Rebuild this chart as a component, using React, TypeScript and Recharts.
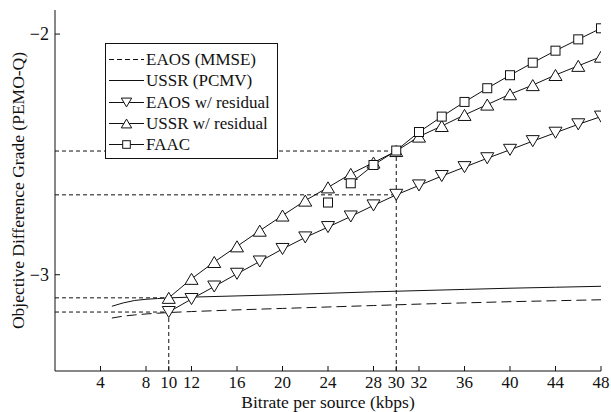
import { Line, LineChart, ReferenceLine, XAxis, YAxis } from "recharts";

// bitrate grid for the two smooth baselines (kbps)
const curveRate = [5, 6, 7, 8, 9, 10, 12, 16, 20, 24, 28, 32, 36, 40, 44, 48];
const eaosMmse = [-3.18, -3.172, -3.167, -3.163, -3.16, -3.157, -3.153, -3.146, -3.14, -3.134, -3.128, -3.122, -3.117, -3.112, -3.108, -3.104];
const ussrPcmv = [-3.131, -3.117, -3.107, -3.102, -3.099, -3.096, -3.093, -3.088, -3.083, -3.077, -3.071, -3.066, -3.061, -3.056, -3.052, -3.048];

// residual-coding curves, measured every 2 kbps
const markRate = [10, 12, 14, 16, 18, 20, 22, 24, 26, 28, 30, 32, 34, 36, 38, 40, 42, 44, 46, 48];
const eaosResidual = [-3.155, -3.101, -3.049, -2.996, -2.945, -2.893, -2.845, -2.802, -2.758, -2.712, -2.668, -2.629, -2.59, -2.553, -2.516, -2.481, -2.445, -2.41, -2.375, -2.343];
const ussrResidual = [-3.096, -3.017, -2.947, -2.882, -2.817, -2.754, -2.692, -2.637, -2.581, -2.534, -2.486, -2.426, -2.382, -2.336, -2.293, -2.25, -2.212, -2.17, -2.132, -2.094];

const faacRate = [24, 26, 28, 30, 32, 34, 36, 38, 40, 42, 44, 46, 48];
const faac = [-2.7, -2.62, -2.544, -2.484, -2.407, -2.343, -2.282, -2.225, -2.171, -2.119, -2.069, -2.022, -1.976];

const xTicks = [4, 8, 10, 12, 16, 20, 24, 28, 30, 32, 36, 40, 44, 48];
const yTicks = [-3, -2];

// dotted guide lines: [x0, y0, x1, y1]
const guides = [
  [0, -2.486, 30, -2.486],
  [0, -2.668, 30, -2.668],
  [0, -3.096, 10, -3.096],
  [0, -3.155, 10, -3.155],
  [10, -3.4, 10, -3.155],
  [30, -3.4, 30, -2.486],
];

const FONT = "Liberation Serif, DejaVu Serif, serif";
const INK = "#111";
const TICK_GAP = 5;
const TICK_FS = 17;
const LABEL_FS = 17.5;

const pts = (xs: number[], ys: number[]) => xs.map((x, i) => ({ x, y: ys[i] }));

const UpTri = ({ cx, cy, s = 6.5 }: { cx: number; cy: number; s?: number }) => (
  <path d={`M${cx},${cy - s * 0.85} L${cx + s},${cy + s * 0.85} L${cx - s},${cy + s * 0.85} Z`} fill="#fff" stroke={INK} strokeWidth={1} />
);
const DownTri = ({ cx, cy, s = 6.5 }: { cx: number; cy: number; s?: number }) => (
  <path d={`M${cx - s},${cy - s * 0.85} L${cx + s},${cy - s * 0.85} L${cx},${cy + s * 0.85} Z`} fill="#fff" stroke={INK} strokeWidth={1} />
);
const Square = ({ cx, cy, s = 4.5 }: { cx: number; cy: number; s?: number }) => (
  <rect x={cx - s} y={cy - s} width={s * 2} height={s * 2} fill="#fff" stroke={INK} strokeWidth={1} />
);

const dotOf = (Shape: typeof Square) => (p: any) => <Shape key={`d${p.index}`} cx={p.cx} cy={p.cy} />;

const XTick = ({ x, y, payload }: any) => (
  <g>
    <line x1={x} x2={x} y1={y - TICK_GAP} y2={y - TICK_GAP - 5} stroke={INK} />
    <text x={x} y={y} dy="0.71em" textAnchor="middle" style={{ fontFamily: FONT }} fontSize={TICK_FS} fill={INK}>
      {payload.value}
    </text>
  </g>
);

const YTick = ({ x, y, payload }: any) => (
  <g>
    <line x1={x + TICK_GAP} x2={x + TICK_GAP + 5} y1={y} y2={y} stroke={INK} />
    <text x={x - 1} y={y} dy="0.355em" textAnchor="end" style={{ fontFamily: FONT }} fontSize={TICK_FS + 1} fill={INK}>
      {String(payload.value).replace("-", "\u2212")}
    </text>
  </g>
);

const legendRows = [
  { name: "EAOS (MMSE)", dash: "5 3", mark: null },
  { name: "USSR (PCMV)", dash: undefined, mark: null },
  { name: "EAOS w/ residual", dash: undefined, mark: DownTri },
  { name: "USSR w/ residual", dash: undefined, mark: UpTri },
  { name: "FAAC", dash: undefined, mark: Square },
];

const LegendBox = () => (
  <div
    style={{
      position: "absolute", left: 105, top: 43, width: 173, height: 116, boxSizing: "border-box",
      border: `1px solid ${INK}`, background: "#fff", padding: "5px 0 0 2px",
      fontFamily: FONT, fontSize: 17, color: INK,
    }}
  >
    {legendRows.map((r) => (
      <div key={r.name} style={{ display: "flex", alignItems: "center", height: 21.3, whiteSpace: "nowrap" }}>
        <svg width={38} height={21} style={{ flex: "none" }}>
          <line x1={1} x2={36} y1={10.5} y2={10.5} stroke={INK} strokeDasharray={r.dash} />
          {r.mark && <r.mark cx={18.5} cy={10.5} s={r.mark === Square ? 3.8 : 5.2} />}
        </svg>
        <span style={{ lineHeight: "21px" }}>{r.name}</span>
      </div>
    ))}
  </div>
);

export default function App() {
  const faacPts = pts(faacRate, faac);
  return (
    <div style={{ position: "absolute", left: 0, top: 0, width: 611, height: 412, background: "#fff", fontFamily: FONT }}>
      <LineChart width={611} height={412} margin={{ top: 10, right: 10, left: 0, bottom: 0 }} style={{ fontFamily: FONT }}>
        <XAxis
          type="number"
          dataKey="x"
          domain={[0, 48]}
          ticks={xTicks}
          interval={0}
          height={41}
          tickSize={0}
          tickMargin={TICK_GAP}
          tick={<XTick />}
          stroke={INK}
          allowDataOverflow
          label={{ value: "Bitrate per source (kbps)", position: "insideBottom", offset: 4, fill: INK, fontSize: LABEL_FS, style: { fontFamily: FONT } }}
        />
        <YAxis
          type="number"
          domain={[-3.4, -1.9]}
          ticks={yTicks}
          width={55}
          tickSize={0}
          tickMargin={TICK_GAP}
          tick={<YTick />}
          stroke={INK}
          allowDataOverflow
          label={{
            value: "Objective Difference Grade (PEMO-Q)", angle: -90, position: "insideLeft", offset: 18,
            style: { textAnchor: "middle", fontFamily: FONT }, fill: INK, fontSize: LABEL_FS,
          }}
        />
        {guides.map(([x0, y0, x1, y1], i) => (
          <ReferenceLine
            key={`g${i}`}
            segment={[{ x: x0, y: y0 }, { x: x1, y: y1 }]}
            stroke={INK}
            strokeDasharray="4 3"
            ifOverflow="visible"
          />
        ))}
        <Line data={pts(curveRate, eaosMmse)} dataKey="y" type="linear" stroke={INK} strokeWidth={1} strokeDasharray="10 5" dot={false} isAnimationActive={false} />
        <Line data={pts(curveRate, ussrPcmv)} dataKey="y" type="linear" stroke={INK} strokeWidth={1} dot={false} isAnimationActive={false} />
        <Line data={pts(markRate, eaosResidual)} dataKey="y" type="linear" stroke={INK} strokeWidth={1} dot={dotOf(DownTri)} isAnimationActive={false} />
        <Line data={pts(markRate, ussrResidual)} dataKey="y" type="linear" stroke={INK} strokeWidth={1} dot={dotOf(UpTri)} isAnimationActive={false} />
        <Line data={faacPts.slice(0, 1)} dataKey="y" type="linear" stroke={INK} strokeWidth={1} dot={dotOf(Square)} isAnimationActive={false} />
        <Line data={faacPts.slice(1)} dataKey="y" type="linear" stroke={INK} strokeWidth={1} dot={dotOf(Square)} isAnimationActive={false} />
      </LineChart>
      <LegendBox />
    </div>
  );
}
